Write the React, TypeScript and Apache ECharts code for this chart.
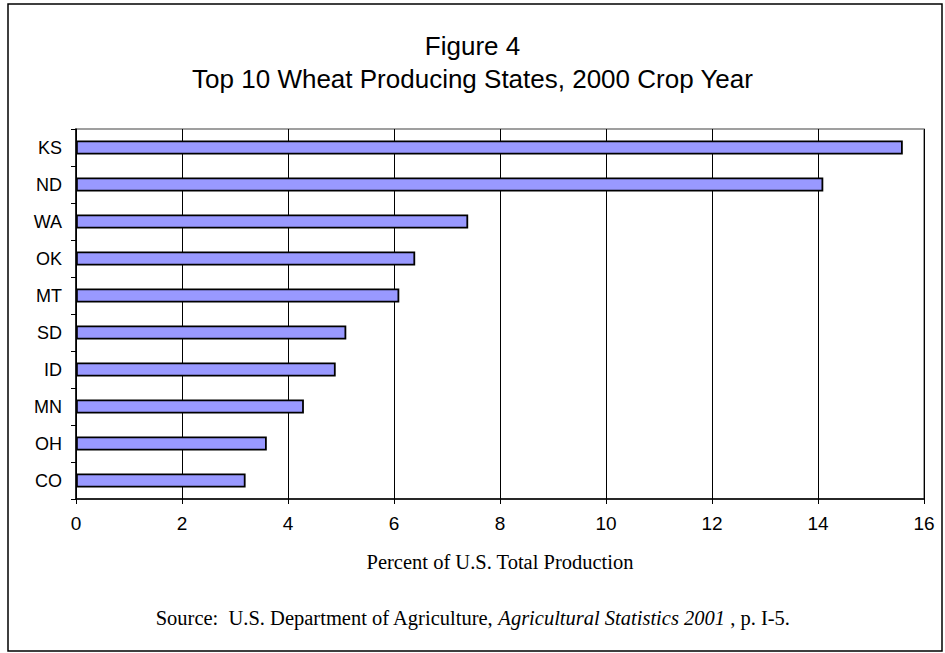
import React, { useEffect, useRef } from "react";
import * as echarts from "echarts";

// Share of U.S. wheat production by state, 2000 crop year (percent)
const states = ["KS", "ND", "WA", "OK", "MT", "SD", "ID", "MN", "OH", "CO"];
const percentOfTotal = [15.6, 14.1, 7.4, 6.4, 6.1, 5.1, 4.9, 4.3, 3.6, 3.2];
const xTicks = { min: 0, max: 16, interval: 2 };

const titleText = "Figure 4\nTop 10 Wheat Producing States, 2000 Crop Year";
const axisTitle = "Percent of U.S. Total Production";
const sourcePre = "Source:  U.S. Department of Agriculture, ";
const sourceItalic = "Agricultural Statistics 2001";
const sourcePost = " , p. I-5.";

const SANS = "Liberation Sans, Arial, sans-serif";
const SERIF = "Liberation Serif, Times New Roman, serif";

export default function App() {
  const ref = useRef<HTMLDivElement>(null);

  useEffect(() => {
    document.body.style.margin = "0";
    const chart = echarts.init(ref.current!, null, { renderer: "svg" });
    chart.setOption({
      animation: false,
      backgroundColor: "#ffffff",
      title: [
        {
          text: titleText,
          left: "center",
          top: 24,
          textStyle: {
            fontFamily: SANS,
            fontSize: 26,
            fontWeight: "normal",
            color: "#000",
            lineHeight: 33,
          },
        },
        {
          text: `{a|${sourcePre}}{b|${sourceItalic}}{a|${sourcePost}}`,
          left: "center",
          top: 602,
          textStyle: {
            rich: {
              a: {
                fontFamily: SERIF,
                fontSize: 20.5,
                lineHeight: 22,
                fontWeight: "normal",
                color: "#000",
              },
              b: {
                fontFamily: SERIF,
                fontSize: 20.5,
                lineHeight: 22,
                fontWeight: "normal",
                fontStyle: "italic",
                color: "#000",
              },
            },
          },
        },
      ],
      graphic: [
        {
          type: "rect",
          shape: { x: 8, y: 4, width: 934, height: 647 },
          style: { fill: "none", stroke: "#000", lineWidth: 1.5 },
          silent: true,
        },
        {
          type: "rect",
          shape: { x: 76, y: 129, width: 848, height: 370 },
          style: { fill: "none", stroke: "#808080", lineWidth: 1.5 },
          silent: true,
          z: -1,
        },
      ],
      grid: { left: 76, top: 129, width: 848, height: 370, containLabel: false },
      xAxis: {
        type: "value",
        min: xTicks.min,
        max: xTicks.max,
        interval: xTicks.interval,
        name: axisTitle,
        nameLocation: "middle",
        nameGap: 52,
        nameTextStyle: { fontFamily: SERIF, fontSize: 20.5, color: "#000" },
        axisLine: { show: true, lineStyle: { color: "#000", width: 1.5 } },
        axisTick: { show: true, length: 5, lineStyle: { color: "#000" } },
        axisLabel: { margin: 15, fontFamily: SANS, fontSize: 19, color: "#000" },
        splitLine: { show: true, lineStyle: { color: "#000", width: 1 } },
      },
      yAxis: {
        type: "category",
        data: states,
        inverse: true,
        axisLine: { show: true, lineStyle: { color: "#000", width: 1.5 } },
        axisTick: { show: true, length: 5, lineStyle: { color: "#000" } },
        axisLabel: { margin: 14, fontFamily: SANS, fontSize: 18, color: "#000" },
        splitLine: { show: false },
      },
      series: [
        {
          type: "bar",
          data: percentOfTotal,
          barWidth: 14,
          itemStyle: { color: "#9999ff", borderColor: "#000", borderWidth: 1.8 },
        },
      ],
    });
    return () => chart.dispose();
  }, []);

  return <div ref={ref} style={{ width: 945, height: 653 }} />;
}
